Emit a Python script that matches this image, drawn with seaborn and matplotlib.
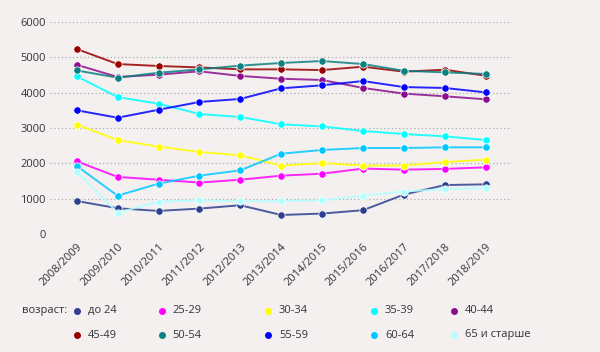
import numpy as np
import pandas as pd
import matplotlib
matplotlib.use("Agg")
import matplotlib.pyplot as plt
import seaborn as sns
from matplotlib.lines import Line2D

years = ["2008/2009", "2009/2010", "2010/2011", "2011/2012", "2012/2013", "2013/2014",
         "2014/2015", "2015/2016", "2016/2017", "2017/2018", "2018/2019"]

ages = ["до 24", "25-29", "30-34", "35-39", "40-44", "45-49", "50-54", "55-59", "60-64", "65 и старше"]

v_u24 = [940, 735, 660, 725, 820, 545, 585, 680, 1120, 1390, 1410]
v_2529 = [2060, 1620, 1540, 1460, 1540, 1655, 1710, 1855, 1825, 1845, 1890]
v_3034 = [3095, 2660, 2475, 2325, 2230, 1940, 2010, 1940, 1940, 2040, 2105]
v_3539 = [4460, 3875, 3685, 3395, 3310, 3105, 3045, 2915, 2830, 2765, 2660]
v_4044 = [4785, 4440, 4505, 4600, 4470, 4390, 4355, 4130, 3970, 3895, 3810]
v_4549 = [5230, 4805, 4750, 4710, 4655, 4655, 4635, 4730, 4590, 4645, 4475]
v_5054 = [4625, 4420, 4560, 4655, 4760, 4835, 4890, 4805, 4615, 4570, 4525]
v_5559 = [3500, 3290, 3515, 3735, 3820, 4120, 4205, 4325, 4155, 4130, 4005]
v_6064 = [1930, 1090, 1430, 1655, 1805, 2275, 2380, 2435, 2435, 2455, 2455]
v_65p = [1770, 610, 920, 960, 930, 940, 960, 1090, 1205, 1280, 1300]

series = [v_u24, v_2529, v_3034, v_3539, v_4044, v_4549, v_5054, v_5559, v_6064, v_65p]
colors = ["#2e3f8f", "#ff00ff", "#ffff00", "#00ffff", "#8b0f8b",
          "#990000", "#0b8080", "#0000ff", "#00c8ff", "#b3ffff"]
palette = dict(zip(ages, colors))

rows = []
for a, vals in zip(ages, series):
    for i, v in enumerate(vals):
        rows.append({"year": i, "age": a, "value": v})
df = pd.DataFrame(rows)

bg = "#f4f0f0"
sns.set_theme(style="white")
plt.rcParams["font.family"] = ["Open Sans", "DejaVu Sans"]

fig = plt.figure(figsize=(6.0, 3.52), dpi=100, facecolor=bg)
W, H = 600, 352
ax = fig.add_axes([50 / W, 1 - 234.3 / H, (512 - 50) / W, (234.3 - 21.7) / H])
ax.set_facecolor(bg)

for a in ages:
    sub = df[df["age"] == a]
    sns.lineplot(data=sub, x="year", y="value", color=palette[a], linewidth=1.4,
                 alpha=0.85, ax=ax, legend=False, zorder=2)
    sns.scatterplot(data=sub, x="year", y="value", color=palette[a], s=28,
                    edgecolor="white", linewidth=0.5, ax=ax, legend=False, zorder=3)

x0, dx = 76.7, 40.9
ax.set_xlim((50 - x0) / dx, (512 - x0) / dx)
ax.set_ylim(0, 6000)
ax.set_yticks(range(0, 6001, 1000))
ax.set_xticks(range(len(years)))
ax.set_xticklabels(years, rotation=45, ha="right", rotation_mode="anchor")
ax.tick_params(axis="both", length=0, labelsize=8, colors="#333333")
ax.tick_params(axis="y", pad=3)
ax.tick_params(axis="x", pad=5)
ax.set_xlabel("")
ax.set_ylabel("")
for s in ax.spines.values():
    s.set_visible(False)
ax.grid(False)
for y in range(0, 6001, 1000):
    ax.axhline(y, color="#aaaaaa", linestyle=(0, (1, 2)), linewidth=0.9, zorder=1)

# legend
fig.text(22 / W, 1 - 310.7 / H, "возраст:", fontsize=8, color="#333333", va="center", ha="left")
colx = [77, 161.5, 268, 374, 454]
rowy = [310.7, 335]
for idx, a in enumerate(ages):
    r, c = divmod(idx, 5)
    mx, my = colx[c] / W, 1 - rowy[r] / H
    fig.add_artist(Line2D([mx], [my], marker="o", markersize=4, color=palette[a],
                          markeredgecolor=palette[a], linestyle="none",
                          transform=fig.transFigure))
    fig.text(mx + 11 / W, my, a, fontsize=8, color="#333333", va="center", ha="left")

fig.savefig("out.png", dpi=100, facecolor=bg)
